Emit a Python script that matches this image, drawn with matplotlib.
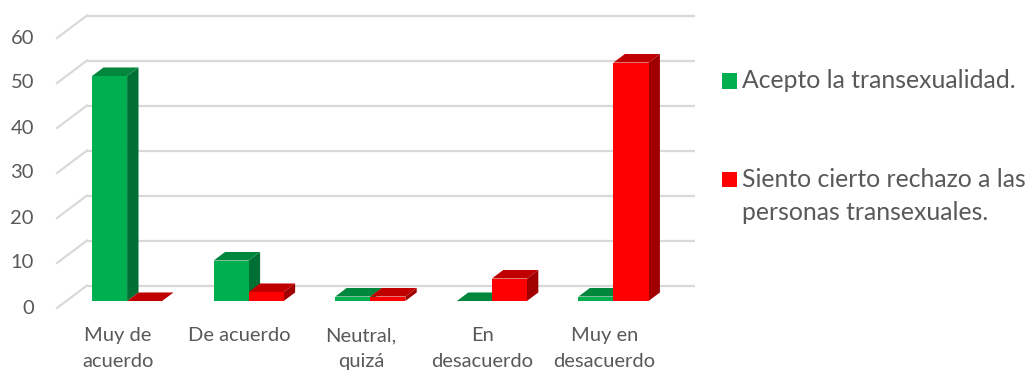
import matplotlib
matplotlib.use("Agg")
import matplotlib.pyplot as plt
from matplotlib.patches import Polygon, Rectangle

categories = ["Muy de\nacuerdo", "De acuerdo", "Neutral,\nquizá", "En\ndesacuerdo", "Muy en\ndesacuerdo"]
series_names = ["Acepto la transexualidad.", "Siento cierto rechazo a las\npersonas transexuales."]
acepto = [50, 9, 1, 0, 1]
rechazo = [0, 2, 1, 5, 53]
y_ticks = [0, 10, 20, 30, 40, 50, 60]

plt.rcParams['font.family'] = ['Lato', 'DejaVu Sans']
TEXT = "#595959"
GRID = "#D9D9D9"
FS = 14.5
FS_LEG = 17.8

# face colours: front, top, side
palette = [
    ("#00B050", "#00873D", "#006F34"),
    ("#FF0000", "#C00000", "#A00000"),
]

# oblique projection: full depth shifts x by DX (category units) and y by DY (value units)
DX, DY = 0.2467, 5.0
D_FRONT, D_BACK = 0.31, 0.69
BAR_W = 0.288

fig = plt.figure(figsize=(10.27, 3.70), dpi=100)
ax = fig.add_axes([0, 0, 1, 1])
px_per_x = 121.6
px_per_y = 4.5
ax.set_xlim(-57 / px_per_x, (1027 - 57) / px_per_x)
ax.set_ylim(-(370 - 308) / px_per_y, 308 / px_per_y)
ax.axis("off")

n = len(categories)


def P(x, y, d):
    return (x + d * DX, y + d * DY)


# walls: back gridlines and side-wall diagonals
for v in y_ticks:
    ax.plot([P(0, v, 1)[0], P(n, v, 1)[0]], [P(0, v, 1)[1]] * 2,
            color=GRID, lw=1.6, zorder=1, solid_capstyle="butt")
    ax.plot([P(0, v, 0)[0], P(0, v, 1)[0]], [P(0, v, 0)[1], P(0, v, 1)[1]],
            color=GRID, lw=1.6, zorder=1)
    ax.text(-0.19, v, str(v), ha="right", va="center", fontsize=FS, color=TEXT)


def bar3d(x0, h, cols, z):
    front, top, side = cols
    x1 = x0 + BAR_W
    # side face
    ax.add_patch(Polygon([P(x1, 0, D_FRONT), P(x1, 0, D_BACK), P(x1, h, D_BACK), P(x1, h, D_FRONT)],
                         closed=True, fc=side, ec="none", zorder=z))
    # top face
    ax.add_patch(Polygon([P(x0, h, D_FRONT), P(x1, h, D_FRONT), P(x1, h, D_BACK), P(x0, h, D_BACK)],
                         closed=True, fc=top, ec="none", zorder=z))
    # front face
    if h > 0:
        ax.add_patch(Polygon([P(x0, 0, D_FRONT), P(x1, 0, D_FRONT), P(x1, h, D_FRONT), P(x0, h, D_FRONT)],
                             closed=True, fc=front, ec="none", zorder=z))


for i in range(n):
    c = i + 0.5
    bar3d(c - BAR_W, acepto[i], palette[0], 2 + 2 * i)
    bar3d(c, rechazo[i], palette[1], 3 + 2 * i)
    ax.text(c, -4.3, categories[i], ha="center", va="top", fontsize=FS,
            color=TEXT, linespacing=1.62)


def to_data(px, py):
    return ((px - 57) / px_per_x, (308 - py) / px_per_y)


# legend
for k, (name, cy) in enumerate(zip(series_names, [81, 196])):
    sq_y = 81 if k == 0 else 179
    x0, y0 = to_data(722, sq_y + 7.5)
    ax.add_patch(Rectangle((x0, y0), 15 / px_per_x, 15 / px_per_y,
                           fc=palette[k][0], ec="none", zorder=5))
    tx, ty = to_data(742, cy)
    ax.text(tx, ty, name, ha="left", va="center",
            fontsize=FS_LEG, color=TEXT, linespacing=1.55)

fig.savefig("out.png", dpi=100)
